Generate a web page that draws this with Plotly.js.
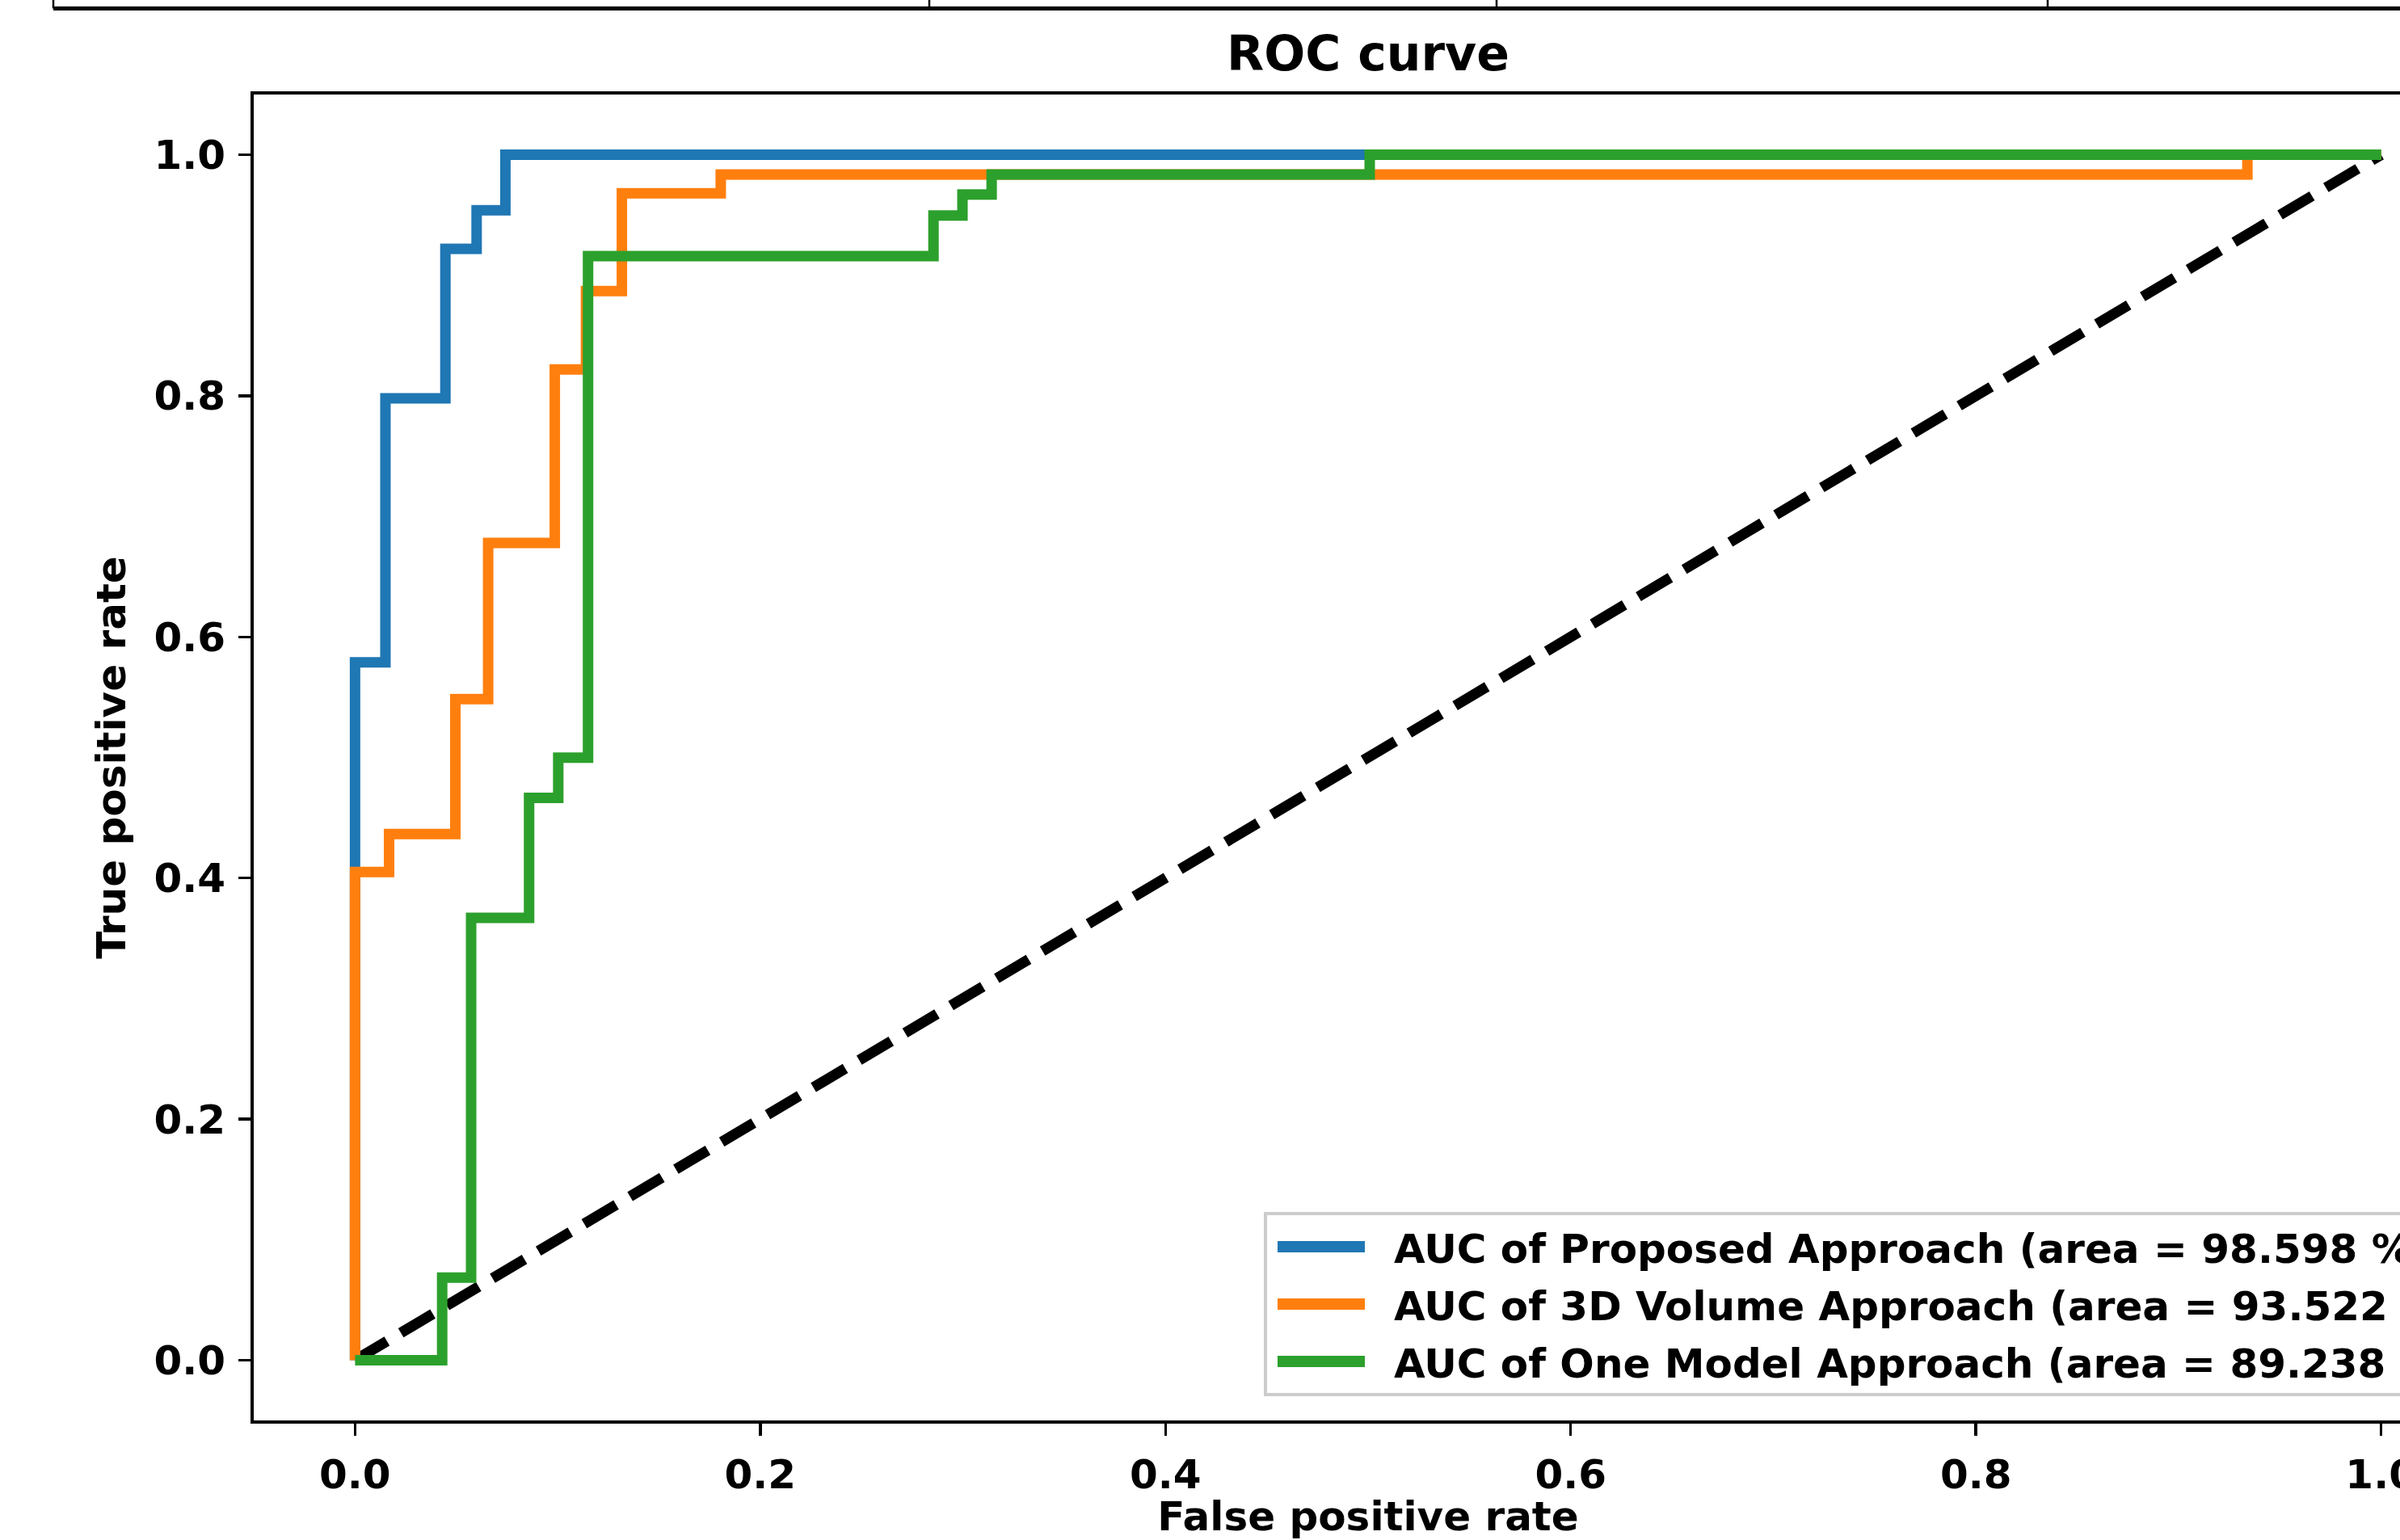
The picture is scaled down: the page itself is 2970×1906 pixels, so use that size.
<!DOCTYPE html>
<html>
<head>
<meta charset="utf-8">
<script src="https://cdn.plot.ly/plotly-3.0.1.min.js"></script>
<style>
html, body { margin: 0; padding: 0; background: #ffffff; overflow: hidden; }
#chart { width: 3100px; height: 1906px; }
</style>
</head>
<body>
<div id="chart"></div>
<script>
// ---- Data ----
const seriesNames = [
  "AUC of Proposed Approach (area = 98.598 %)",
  "AUC of 3D Volume Approach (area = 93.522 %)",
  "AUC of One Model Approach (area = 89.238 %)"
];
const fprProposed = [0, 0, 0.0150, 0.0150, 0.0446, 0.0446, 0.0600, 0.0600, 0.0742, 0.0742, 1.0];
const tprProposed = [0, 0.579, 0.579, 0.798, 0.798, 0.922, 0.922, 0.954, 0.954, 1.0, 1.0];

const fprVolume = [0, 0, 0.0168, 0.0168, 0.0495, 0.0495, 0.0657, 0.0657, 0.0986, 0.0986, 0.1140, 0.1140, 0.1317, 0.1317, 0.1805, 0.1805, 0.9340, 0.9340, 1.0];
const tprVolume = [0, 0.405, 0.405, 0.4365, 0.4365, 0.5485, 0.5485, 0.678, 0.678, 0.822, 0.822, 0.887, 0.887, 0.968, 0.968, 0.9837, 0.9837, 1.0, 1.0];

const fprOneModel = [0, 0.0430, 0.0430, 0.0573, 0.0573, 0.0859, 0.0859, 0.1003, 0.1003, 0.1150, 0.1150, 0.2855, 0.2855, 0.2998, 0.2998, 0.3142, 0.3142, 0.5008, 0.5008, 1.0];
const tprOneModel = [0, 0, 0.0685, 0.0685, 0.367, 0.367, 0.4665, 0.4665, 0.4998, 0.4998, 0.916, 0.916, 0.9496, 0.9496, 0.967, 0.967, 0.9837, 0.9837, 1.0, 1.0];

const chanceX = [0, 1];
const chanceY = [0, 1];

const xTickVals = [0, 0.2, 0.4, 0.6, 0.8, 1.0];
const xTickText = ["0.0", "0.2", "0.4", "0.6", "0.8", "1.0"];
const yTickVals = [0, 0.2, 0.4, 0.6, 0.8, 1.0];
const yTickText = ["0.0", "0.2", "0.4", "0.6", "0.8", "1.0"];

// ---- Styles ----
const colors = ["#1f77b4", "#ff7f0e", "#2ca02c"];
const LW = 13;
const FONT = "DejaVu Sans";
const FS = 50;

const traces = [
  { x: chanceX, y: chanceY, mode: "lines", showlegend: false, hoverinfo: "skip",
    line: { color: "#000000", width: LW, dash: "46px,20px" } },
  { x: fprProposed, y: tprProposed, mode: "lines", name: seriesNames[0], legendgroup: "a",
    line: { color: colors[0], width: LW } },
  { x: fprVolume, y: tprVolume, mode: "lines", name: seriesNames[1], legendgroup: "b",
    line: { color: colors[1], width: LW } },
  { x: fprOneModel, y: tprOneModel, mode: "lines", name: seriesNames[2], legendgroup: "c",
    line: { color: colors[2], width: LW } }
];

// plot area in pixels: left 314, right 3072, top 117, bottom 1758
const W = 3100, H = 1906;
const L = 314, R = W - 3072, T = 117, B = H - 1758;
const plotW = W - L - R, plotH = H - T - B;
function px2paperX(px) { return (px - L) / plotW; }
function px2paperY(py) { return (H - B - py) / plotH; }

const axisCommon = {
  showgrid: false, zeroline: false, showline: true, mirror: true,
  linecolor: "#000000", linewidth: 4,
  ticks: "outside", ticklen: 15, tickwidth: 3.5, tickcolor: "#000000",
  tickfont: { family: FONT, size: FS, color: "#000000", weight: "bold" },
  fixedrange: true
};

const deco = [];
deco.push({ type: "line", xref: "paper", yref: "paper",
  x0: px2paperX(66), x1: px2paperX(3100), y0: px2paperY(10.5), y1: px2paperY(10.5),
  line: { color: "#000000", width: 5 } });
[66, 1150, 1852, 2534].forEach(function (px) {
  deco.push({ type: "line", xref: "paper", yref: "paper",
    x0: px2paperX(px), x1: px2paperX(px), y0: px2paperY(10.5), y1: px2paperY(-5),
    line: { color: "#000000", width: 2.5 } });
});

const layout = {
  width: W, height: H,
  margin: { l: L, r: R, t: T, b: B, autoexpand: false },
  paper_bgcolor: "#ffffff", plot_bgcolor: "#ffffff",
  font: { family: FONT, size: FS, color: "#000000", weight: "bold" },
  title: { text: "ROC curve", x: 0.5, xref: "paper", xanchor: "center",
    y: 1 - 66 / H, yref: "container", yanchor: "middle",
    font: { family: FONT, size: 60, color: "#000000", weight: "bold" } },
  xaxis: Object.assign({}, axisCommon, {
    range: [-0.05, 1.05], tickvals: xTickVals, ticktext: xTickText,
    ticklabelstandoff: 5,
    title: { text: "False positive rate", standoff: 14,
      font: { family: FONT, size: FS, color: "#000000", weight: "bold" } }
  }),
  yaxis: Object.assign({}, axisCommon, {
    range: [-0.05, 1.05], tickvals: yTickVals, ticktext: yTickText,
    ticklabelstandoff: 6,
    title: { text: "True positive rate", standoff: 20,
      font: { family: FONT, size: FS, color: "#000000", weight: "bold" } }
  }),
  legend: {
    x: px2paperX(1564), y: px2paperY(1500), xanchor: "left", yanchor: "top",
    bgcolor: "rgba(255,255,255,0.8)", bordercolor: "#cccccc", borderwidth: 4,
    font: { family: FONT, size: FS, color: "#000000", weight: "bold" },
    itemwidth: 147, tracegroupgap: 3
  },
  shapes: deco,
  showlegend: true
};

Plotly.newPlot("chart", traces, layout, { staticPlot: true, displayModeBar: false }).then(function () {
  // lengthen/shift the legend line samples to match the reference handles
  document.querySelectorAll("#chart .legendlines path").forEach(function (p) {
    const d = p.getAttribute("d") || "";
    const m = d.match(/M\s*([\-\d.]+)\s*,\s*([\-\d.]+)/);
    if (!m) return;
    const x0 = parseFloat(m[1]);
    p.setAttribute("d", "M" + (x0 + 8) + "," + m[2] + "h108");
    p.style.strokeWidth = "14px";
  });
});
</script>
</body>
</html>
